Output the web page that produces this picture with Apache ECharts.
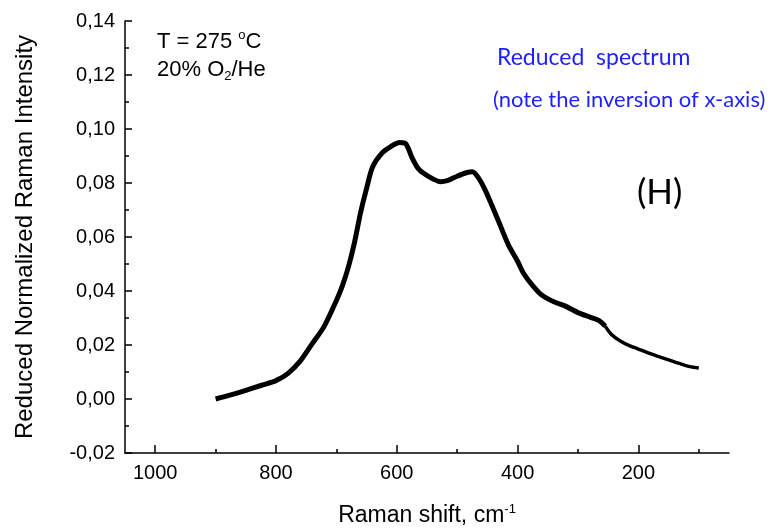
<!DOCTYPE html>
<html>
<head>
<meta charset="utf-8">
<script src="https://cdn.jsdelivr.net/npm/echarts@6/dist/echarts.min.js"></script>
<style>
  html, body { margin: 0; padding: 0; background: #fff; }
  #chart { width: 774px; height: 529px; }
</style>
</head>
<body>
<div id="chart"></div>
<script>
// Raman shift (cm-1) and intensity
const shiftBody = [900, 875, 850, 825, 800, 780, 760, 740, 720, 700, 690, 680, 670, 660, 650, 640,
  625, 610, 595, 585, 575, 565, 555, 540, 528, 515, 500, 485, 475, 465, 455, 445, 430, 415,
  400, 390, 375, 360, 340, 320, 300, 280, 265, 255];
const intensityBody = [0.0000, 0.0015, 0.0032, 0.0050, 0.0068, 0.0095, 0.0140, 0.0205, 0.0270,
  0.0365, 0.0420, 0.0490, 0.0580, 0.0690, 0.0780, 0.0860, 0.0910, 0.0935, 0.0950, 0.0945,
  0.0895, 0.0855, 0.0835, 0.0815, 0.0805, 0.0810, 0.0825, 0.0838, 0.0842, 0.0820, 0.0780,
  0.0730, 0.0650, 0.0570, 0.0510, 0.0465, 0.0420, 0.0385, 0.0360, 0.0343, 0.0320, 0.0303,
  0.0290, 0.0270];
const shiftTail = [255, 245, 230, 215, 200, 185, 170, 150, 130, 115, 100];
const intensityTail = [0.0270, 0.0240, 0.0215, 0.0198, 0.0185, 0.0172, 0.0160, 0.0145, 0.0130,
  0.0120, 0.0115];

const xMajorTicks = [1000, 800, 600, 400, 200];
const xMinorTicks = [900, 700, 500, 300, 100];

const pairs = (xs, ys) => xs.map((x, i) => [x, ys[i]]);

const chart = echarts.init(document.getElementById('chart'));

const axisFont = { fontFamily: 'Liberation Sans', fontSize: 20, color: '#000' };

const option = {
  backgroundColor: '#fff',
  animation: false,
  grid: { left: 125, right: 45, top: 21, bottom: 76, outerBoundsMode: 'none' },
  xAxis: [
    {
      type: 'value',
      min: 50,
      max: 1050,
      inverse: true,
      name: 'Raman shift, cm{sup|-1}',
      nameLocation: 'middle',
      nameGap: 50,
      nameTextStyle: {
        fontFamily: 'Liberation Sans', fontSize: 23, color: '#000',
        rich: { sup: { fontFamily: 'Liberation Sans', fontSize: 13, color: '#000', verticalAlign: 'top', padding: [0, 0, 12, 0] } }
      },
      axisLine: { show: true, onZero: false, lineStyle: { color: '#000', width: 1.5 } },
      axisTick: { show: true, inside: true, length: 8, customValues: xMajorTicks, lineStyle: { color: '#000', width: 1.5 } },
      axisLabel: Object.assign({ margin: 10, customValues: xMajorTicks, formatter: v => String(v) }, axisFont),
      splitLine: { show: false }
    },
    {
      type: 'value',
      min: 50,
      max: 1050,
      inverse: true,
      position: 'bottom',
      axisLine: { show: false, onZero: false },
      axisTick: { show: true, inside: true, length: 4, customValues: xMinorTicks, lineStyle: { color: '#000', width: 1.5 } },
      axisLabel: { show: false },
      splitLine: { show: false }
    }
  ],
  yAxis: {
    type: 'value',
    min: -0.02,
    max: 0.14,
    interval: 0.02,
    name: 'Reduced Normalized Raman Intensity',
    nameLocation: 'middle',
    nameGap: 88,
    nameTextStyle: { fontFamily: 'Liberation Sans', fontSize: 24, color: '#000' },
    axisLine: { show: true, onZero: false, lineStyle: { color: '#000', width: 1.5 } },
    axisTick: { show: true, inside: true, length: 7, lineStyle: { color: '#000', width: 1.5 } },
    minorTick: { show: true, splitNumber: 2, length: 4, lineStyle: { color: '#000', width: 1.5 } },
    axisLabel: Object.assign({
      margin: 10,
      formatter: v => v.toFixed(2).replace('.', ',')
    }, axisFont),
    splitLine: { show: false }
  },
  series: [
    {
      type: 'line',
      data: pairs(shiftBody, intensityBody),
      showSymbol: false,
      smooth: 0.3,
      lineStyle: { color: '#000', width: 5 }
    },
    {
      type: 'line',
      data: pairs(shiftTail, intensityTail),
      showSymbol: false,
      smooth: 0.3,
      lineStyle: { color: '#000', width: 3.5 }
    }
  ],
  graphic: [
    {
      type: 'text', left: 157, top: 29,
      style: {
        text: 'T = 275 {sup|o}C',
        fontFamily: 'Liberation Sans', fontSize: 22, fill: '#000',
        rich: { sup: { fontFamily: 'Liberation Sans', fontSize: 13, fill: '#000', verticalAlign: 'top', padding: [0, 0, 12, 0] } }
      }
    },
    {
      type: 'text', left: 157, top: 59,
      style: {
        text: '20% O{sub|2}/He',
        fontFamily: 'Liberation Sans', fontSize: 22, fill: '#000',
        rich: { sub: { fontFamily: 'Liberation Sans', fontSize: 13, fill: '#000', verticalAlign: 'bottom', padding: [12, 0, 0, 0] } }
      }
    },
    {
      type: 'text', left: 497, top: 46,
      style: { text: 'Reduced  spectrum', fontFamily: 'Lato', fontSize: 23, fill: '#1f1fff' }
    },
    {
      type: 'text', left: 493, top: 89,
      style: { text: '(note the inversion of x-axis)', fontFamily: 'Lato', fontSize: 22, fill: '#1f1fff' }
    },
    {
      type: 'text', left: 637, top: 175,
      style: { text: '(H)', fontFamily: 'Lato', fontSize: 35, fill: '#000' }
    }
  ]
};

chart.setOption(option);
</script>
</body>
</html>
